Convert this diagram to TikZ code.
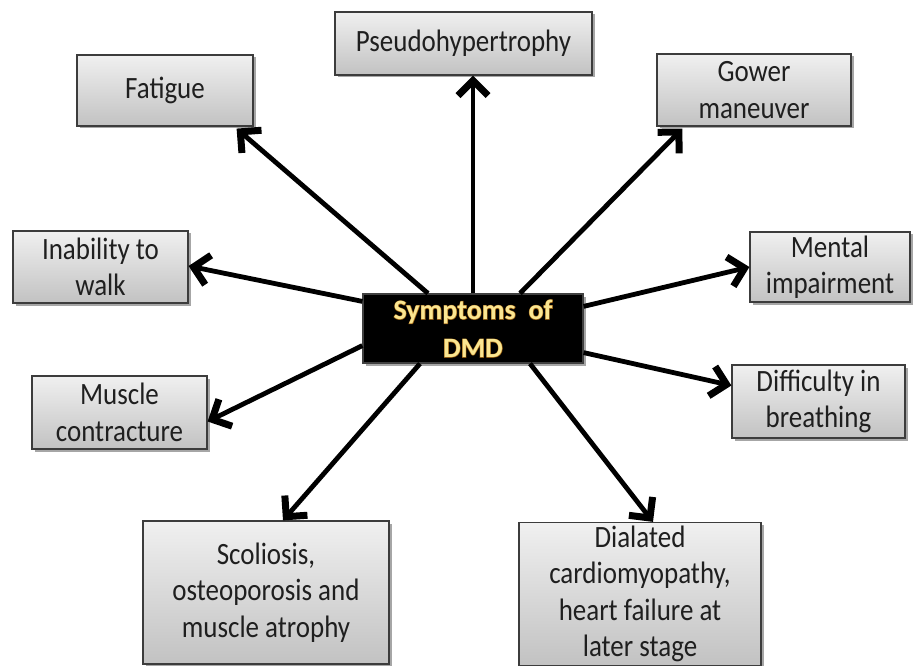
\documentclass[tikz,border=0pt]{standalone}
\usepackage{fontspec}
\setmainfont{Carlito}[FakeStretch=0.87]
\newfontfamily\hubfont{Carlito}
\newfontfamily\glowfont{Carlito}[BoldFeatures={FakeBold=4}]
\usetikzlibrary{arrows.meta,shadows}
\definecolor{boxtop}{HTML}{F0F0F0}
\definecolor{boxbot}{HTML}{C2C2C2}
\definecolor{boxline}{HTML}{3C3C3C}
\definecolor{goldtext}{HTML}{FAE692}
\definecolor{glow}{HTML}{E09020}
\begin{document}
\begin{tikzpicture}[x=1pt,y=-1pt,
  sym/.style={draw=boxline, line width=1.2pt, top color=boxtop, bottom color=boxbot,
    align=center, font=\fontsize{31}{36.5}\selectfont, text=black!88, inner sep=0pt,
    drop shadow={shadow xshift=2.5pt,shadow yshift=-2.5pt,opacity=0.35,fill=black}},
  hub/.style={fill=black, draw=black!75, line width=1.2pt, align=center,
    inner sep=0pt,
    drop shadow={shadow xshift=2.5pt,shadow yshift=-2.5pt,opacity=0.35,fill=black}},
  hubtext/.style={align=center, font=\hubfont\bfseries\fontsize{28}{38}\selectfont, inner sep=0pt},
  glowtext/.style={align=center, font=\glowfont\bfseries\fontsize{28}{38}\selectfont, inner sep=0pt},
  link/.style={line width=4.8pt, -{Straight Barb[length=15pt,width=30pt,line width=7pt]}}
]
\useasboundingbox (0,0) rectangle (914,666);

\node[hub, minimum width=220pt, minimum height=69pt] (c) at (473,328.5) {};
\node[glowtext, text=glow, opacity=0.6] (cg) at (c) {Symptoms~~of\\DMD};
\node[hubtext, text=goldtext] (ct) at (c) {Symptoms~~of\\DMD};

\node[sym, minimum width=257pt, minimum height=63pt] (p) at (463.5,43.5) {Pseudohypertrophy};
\node[sym, minimum width=176pt, minimum height=71pt] (f) at (165,90.5) {Fatigue};
\node[sym, minimum width=194pt, minimum height=72pt] (g) at (754,90) {Gower\\maneuver};
\node[sym, minimum width=175pt, minimum height=72pt] (i) at (100.5,267) {Inability to\\walk};
\node[sym, minimum width=160pt, minimum height=70pt] (m) at (830,267) {Mental\\impairment};
\node[sym, minimum width=175pt, minimum height=73pt] (mc) at (119.5,412.5) {Muscle\\contracture};
\node[sym, minimum width=173pt, minimum height=73pt] (d) at (818.5,401.5) {Difficulty in\\breathing};
\node[sym, minimum width=246pt, minimum height=143pt] (s) at (266,592.5) {Scoliosis,\\osteoporosis and\\muscle atrophy};
\node[sym, minimum width=242pt, minimum height=143pt] (dl) at (640,594) {Dialated\\cardiomyopathy,\\heart failure at\\later stage};

\draw[link] (c.north) -- ([xshift=9.5pt]p.south);
\draw[link] ([xshift=-45pt]c.north) -- ([xshift=-17pt,yshift=-2pt]f.south east);
\draw[link] ([xshift=47pt]c.north) -- ([xshift=26pt,yshift=-2pt]g.south west);
\draw[link] ([yshift=-8pt]c.north west) -- ([yshift=1pt]i.east);
\draw[link] ([yshift=-13pt]c.north east) -- (m.west);
\draw[link] ([yshift=18pt]c.south west) -- ([yshift=-9pt]mc.east);
\draw[link] ([yshift=11pt]c.south east) -- ([yshift=16pt]d.west);
\draw[link] ([xshift=-53pt]c.south) -- ([xshift=17pt]s.north);
\draw[link] ([xshift=57pt]c.south) -- ([xshift=13pt]dl.north);
\end{tikzpicture}
\end{document}
